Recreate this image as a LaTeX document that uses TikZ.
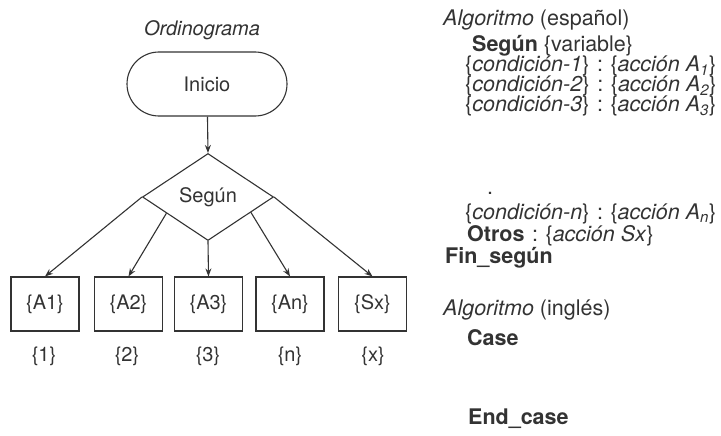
\documentclass[tikz,border=0pt]{standalone}
\usepackage{fontspec}
\setmainfont{TeX Gyre Heros}
\usetikzlibrary{arrows.meta,calc,shapes.geometric}
\definecolor{ink}{HTML}{333333}
\newcommand{\sep}{\hspace{0.35em}:\hspace{0.35em}}
\begin{document}
\begin{tikzpicture}[x=1pt,y=-1pt,
  every node/.style={text=ink},
  line/.style={draw=ink,line width=1.1pt},
  flow/.style={line,-{Stealth[length=8pt,width=6pt]}},
  chart/.style={font=\fontsize{20}{24}\selectfont},
  terminal/.style={chart,line,rectangle,rounded corners=32pt,minimum width=160pt,minimum height=64pt},
  choice/.style={chart,line,diamond,minimum width=131pt,minimum height=87pt,inner sep=0pt},
  actbox/.style={chart,line,rectangle,minimum width=68pt,minimum height=54pt,inner sep=0pt},
  tag/.style={chart},
  code/.style={anchor=base west,font=\fontsize{21.5}{25}\selectfont,inner sep=0pt},
]
\useasboundingbox (0,0) rectangle (721,436);

% flowchart
\node[chart] (title) at (202,30) {\textit{Ordinograma}};
\node[terminal] (start) at (207,84) {Inicio};
\node[choice] (sw) at (208,197) {Según};

\node[actbox] (a1) at (45,304) {\{A1\}};
\node[actbox] (a2) at (128.5,304) {\{A2\}};
\node[actbox] (a3) at (208.5,304) {\{A3\}};
\node[actbox] (an) at (290,304) {\{An\}};
\node[actbox] (sx) at (372.5,304) {\{Sx\}};

\node[tag] (t1) at (44,356) {\{1\}};
\node[tag] (t2) at (127,356) {\{2\}};
\node[tag] (t3) at (208,356) {\{3\}};
\node[tag] (tn) at (290,356) {\{n\}};
\node[tag] (tx) at (373,356) {\{x\}};

\draw[flow] (start) -- (sw.north);
\draw[flow] (sw.west) -- (a1.north);
\draw[flow] ($(sw.west)!0.37!(sw.south)$) -- (a2.north);
\draw[flow] (sw.south) -- (a3.north);
\draw[flow] ($(sw.east)!0.35!(sw.south)$) -- (an.north);
\draw[flow] (sw.east) -- (sx.north);

% pseudocode
\node[code] (alg1) at (443,26) {\textit{Algoritmo} (español)};
\node[code] (seg) at (472,52) {\textbf{Según} \{variable\}};
\node[code] (c1) at (465,72) {\{\textit{condición-1}\}\sep\{\textit{acción A\textsubscript{1}}\}};
\node[code] (c2) at (465,92) {\{\textit{condición-2}\}\sep\{\textit{acción A\textsubscript{2}}\}};
\node[code] (c3) at (465,112) {\{\textit{condición-3}\}\sep\{\textit{acción A\textsubscript{3}}\}};
\node[code] (dot) at (487,194) {.};
\node[code] (cn) at (465,219) {\{\textit{condición-n}\}\sep\{\textit{acción A\textsubscript{n}}\}};
\node[code] (otros) at (467,241) {\textbf{Otros}\sep\{\textit{acción Sx}\}};
\node[code] (fin) at (445,263) {\textbf{Fin\_según}};
\node[code] (alg2) at (443,315) {\textit{Algoritmo} (inglés)};
\node[code] (case) at (467,345) {\textbf{Case}};
\node[code] (end) at (468,424) {\textbf{End\_case}};
\end{tikzpicture}
\end{document}
